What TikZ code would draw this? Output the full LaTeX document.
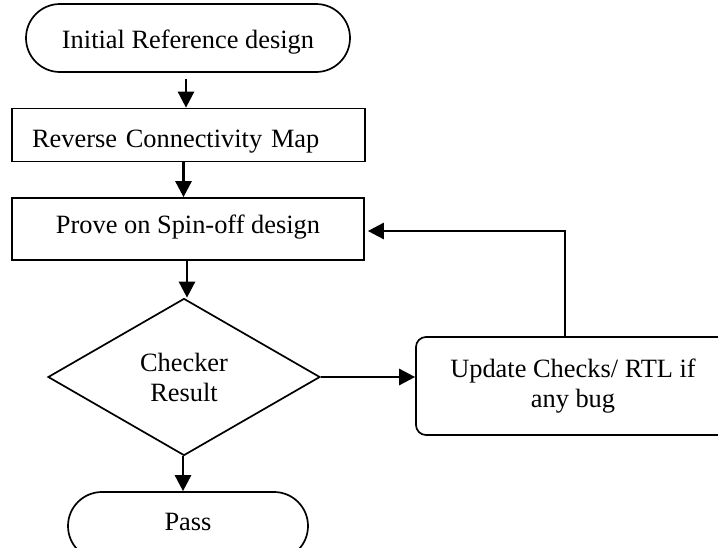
\documentclass[tikz,border=0pt]{standalone}
\usepackage{fontspec}
\setmainfont{Liberation Serif}
\usetikzlibrary{shapes.geometric,shapes.misc,arrows.meta,positioning}
\begin{document}
\begin{tikzpicture}[x=1pt,y=-1pt,
  every node/.style={font=\fontsize{26.4}{30}\selectfont, line width=1.7pt, draw, inner sep=0pt},
  term/.style={rounded rectangle, minimum height=68pt},
  procbox/.style={rectangle, minimum height=53pt},
  decis/.style={diamond, minimum width=272pt, minimum height=157pt, align=center},
  upd/.style={rectangle, rounded corners=10pt, align=center, minimum width=314pt, minimum height=98pt},
  flow/.style={line width=2.7pt, -{Triangle[length=16pt,width=16pt]}}
]
\useasboundingbox (0,0) rectangle (718,547);
\clip (0,0) rectangle (718,547);
\node[term, minimum width=324pt, text height=24pt, text depth=4pt] (start) at (188,38) {Initial Reference design};
\node[procbox, minimum width=353pt, text width=313pt, inner xsep=20pt, align=left, text height=30pt, text depth=5pt] (rcm) at (188.5,135) {Reverse Connectivity Map};
\node[procbox, minimum width=352pt, minimum height=62pt, text height=18pt, text depth=10pt] (prove) at (188,229) {Prove on Spin-off design};
\node[decis] (chk) at (184,377) {Checker\\Result};
\node[upd] (upd) at (573,386) {Update Checks/ RTL if\\any bug};
\node[term, minimum width=240pt, text height=16pt, text depth=8pt] (pass) at (188,526) {Pass};
\draw[flow] ([xshift=-2pt,yshift=-6pt]start.south) -- ([xshift=-2pt]start.south |- rcm.north);
\draw[flow] ([xshift=-5pt]rcm.south) -- ([xshift=-5pt]rcm.south |- prove.north);
\draw[flow] ([xshift=-1pt]prove.south) -- ([xshift=-1pt]prove.south |- chk.north);
\draw[flow] (chk.east) -- (chk.east -| upd.west);
\draw[flow] ([xshift=-8pt]upd.north) |- ([xshift=3pt,yshift=-2pt]prove.east);
\draw[flow] ([xshift=-1pt]chk.south) -- ([xshift=-1pt]chk.south |- pass.north);
\end{tikzpicture}
\end{document}
